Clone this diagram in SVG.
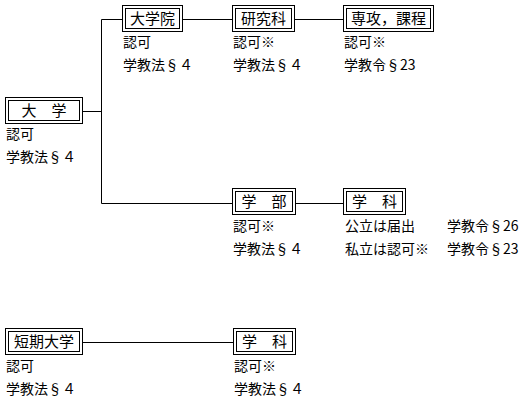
<svg xmlns="http://www.w3.org/2000/svg" width="525" height="400" viewBox="0 0 525 400">
<style>
  .bg { fill: #ffffff; }
  .box { fill: #ffffff; stroke: #000000; stroke-width: 1; }
  .inner { fill: none; stroke: #000000; stroke-width: 1; }
  .bt { font-family: "Noto Sans CJK JP", "Noto Sans CJK SC", sans-serif; font-size: 15px; fill: #000000; text-anchor: middle; }
  .lb { font-family: "Noto Sans CJK JP", "Noto Sans CJK SC", sans-serif; font-size: 14px; fill: #000000; }
  .conn { fill: none; stroke: #000000; stroke-width: 1; }
</style>
<rect class="bg" x="0" y="0" width="525" height="400"/>

<g id="connectors">
  <path class="conn" d="M82.5,111.5 H101.5"/>
  <path class="conn" d="M101.5,19.5 V203.5"/>
  <path class="conn" d="M101.5,19.5 H122.5"/>
  <path class="conn" d="M101.5,203.5 H232.5"/>
  <path class="conn" d="M182.5,19.5 H232.5"/>
  <path class="conn" d="M294.5,19.5 H343.5"/>
  <path class="conn" d="M295.5,203.5 H343.5"/>
  <path class="conn" d="M82.5,342.5 H233.5"/>
</g>

<g id="daigaku">
  <rect class="box" x="5.5" y="97.5" width="77" height="26"/>
  <rect class="inner" x="8.5" y="100.5" width="71" height="20"/>
  <text class="bt" x="44" y="116">大　学</text>
  <text class="lb" x="6" y="139">認可</text>
  <text class="lb" x="6" y="162">学教法§４</text>
</g>

<g id="daigakuin">
  <rect class="box" x="122.5" y="5.5" width="60" height="26"/>
  <rect class="inner" x="125.5" y="8.5" width="54" height="20"/>
  <text class="bt" x="152.5" y="24">大学院</text>
  <text class="lb" x="123" y="47">認可</text>
  <text class="lb" x="123" y="70">学教法§４</text>
</g>

<g id="kenkyuka">
  <rect class="box" x="232.5" y="5.5" width="62" height="26"/>
  <rect class="inner" x="235.5" y="8.5" width="56" height="20"/>
  <text class="bt" x="263.5" y="24">研究科</text>
  <text class="lb" x="233" y="47">認可※</text>
  <text class="lb" x="233" y="70">学教法§４</text>
</g>

<g id="senko">
  <rect class="box" x="343.5" y="5.5" width="90" height="26"/>
  <rect class="inner" x="346.5" y="8.5" width="84" height="20"/>
  <text class="bt" x="388.5" y="24">専攻，課程</text>
  <text class="lb" x="344" y="47">認可※</text>
  <text class="lb" x="344" y="70">学教令§23</text>
</g>

<g id="gakubu">
  <rect class="box" x="232.5" y="188.5" width="63" height="26"/>
  <rect class="inner" x="235.5" y="191.5" width="57" height="20"/>
  <text class="bt" x="264" y="207">学　部</text>
  <text class="lb" x="233" y="231">認可※</text>
  <text class="lb" x="233" y="254">学教法§４</text>
</g>

<g id="gakka1">
  <rect class="box" x="343.5" y="188.5" width="62" height="26"/>
  <rect class="inner" x="346.5" y="191.5" width="56" height="20"/>
  <text class="bt" x="374.5" y="207">学　科</text>
  <text class="lb" x="345" y="231">公立は届出</text>
  <text class="lb" x="345" y="254">私立は認可※</text>
  <text class="lb" x="447" y="231">学教令§26</text>
  <text class="lb" x="447" y="254">学教令§23</text>
</g>

<g id="tanki">
  <rect class="box" x="5.5" y="328.5" width="77" height="26"/>
  <rect class="inner" x="8.5" y="331.5" width="71" height="20"/>
  <text class="bt" x="44" y="347">短期大学</text>
  <text class="lb" x="6" y="371">認可</text>
  <text class="lb" x="6" y="394">学教法§４</text>
</g>

<g id="gakka2">
  <rect class="box" x="233.5" y="328.5" width="62" height="26"/>
  <rect class="inner" x="236.5" y="331.5" width="56" height="20"/>
  <text class="bt" x="264.5" y="347">学　科</text>
  <text class="lb" x="234" y="371">認可※</text>
  <text class="lb" x="234" y="394">学教法§４</text>
</g>
</svg>
